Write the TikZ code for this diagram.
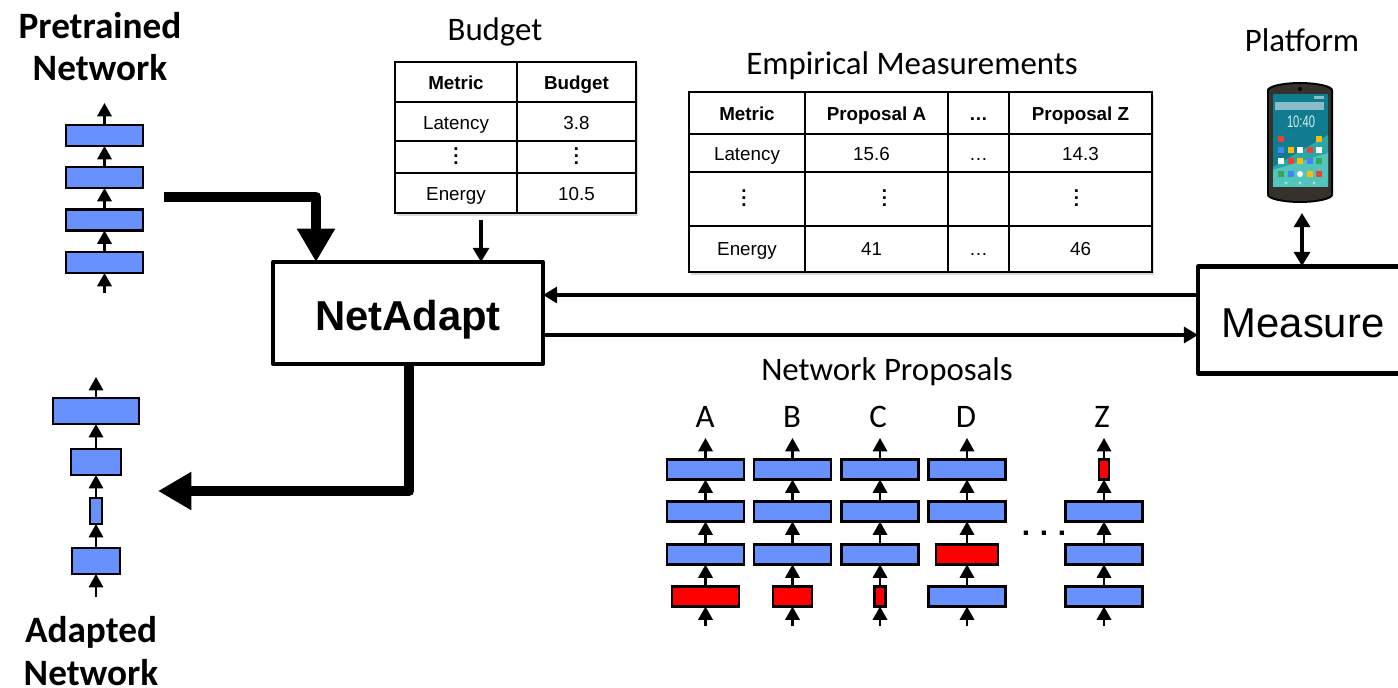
\documentclass[tikz,border=0pt]{standalone}
\usepackage{fontspec}
\usepackage{graphicx}
\usepackage{tikz}
\usetikzlibrary{arrows.meta,shadows}
\setmainfont{Carlito}
\newfontfamily\arialfont{Liberation Sans}
\def\px{0.02cm}
\definecolor{blockblue}{RGB}{102,145,255}
\definecolor{screendark}{RGB}{15,124,143}
\definecolor{screenmid}{RGB}{42,168,168}
\definecolor{screenlight}{RGB}{82,196,187}
\definecolor{phonebody}{RGB}{52,50,42}
\definecolor{barlight}{RGB}{137,190,200}
\definecolor{appred}{RGB}{234,67,53}
\definecolor{appblue}{RGB}{66,133,244}
\definecolor{appyellow}{RGB}{251,188,5}
\definecolor{appgreen}{RGB}{52,168,83}

\begin{document}
\begin{tikzpicture}[x=0.02cm,y=-0.02cm]
   \useasboundingbox (0,0) rectangle (1398,688);
   \tikzstyle{title}=[font=\fontsize{18.7}{22}\selectfont, inner sep=0pt]
   \tikzstyle{heading}=[font=\fontsize{21.2}{25}\selectfont\bfseries, inner sep=0pt]
   \tikzstyle{main}=[draw=black, line width=2.3pt, line join=round, fill=white, inner sep=0pt, outer sep=0pt]
   \tikzstyle{block}=[draw=black, line width=1.2pt, fill=blockblue, inner sep=0pt, outer sep=0pt]
   \tikzstyle{cut}=[block, fill=red]
   \tikzstyle{cell}=[draw=black, line width=1.1pt, inner sep=0pt, outer sep=0pt, text height=0.95em, text depth=0.05em, font=\arialfont\fontsize{10.7}{13}\selectfont]
   \tikzstyle{head}=[cell, font=\arialfont\bfseries\fontsize{10.7}{13}\selectfont]
   \tikzstyle{tableback}=[fill=white, drop shadow={opacity=0.3, shadow xshift=1.2pt, shadow yshift=-1.6pt}]
   \tikzstyle{layer}=[-{Triangle[width=8.2pt,length=7.6pt]}, line width=1.2pt]
   \tikzstyle{link}=[-{Triangle[width=9pt,length=8pt]}, line width=2pt]
   \tikzstyle{bigarrow}=[-{Triangle[width=20.5pt,length=19pt]}, line width=6.2pt, line join=round]
   \newcommand{\tabledots}{{\bfseries$\vdots$}}

   % labels
   \node[heading] (pretrained) at (100,26) {Pretrained};
   \node[heading] (network1) at (100,68) {Network};
   \node[heading] (adapted) at (91,632) {Adapted};
   \node[heading] (network2) at (91,673) {Network};
   \node[title] (budgetlabel) at (495,32) {Budget};
   \node[title] (empiricallabel) at (912,65.5) {Empirical Measurements};
   \node[title] (proposallabel) at (887,372) {Network Proposals};
   \node[title] (platformlabel) at (1302,40) {Platform};

   % main boxes
   \node[main, minimum width=270*\px, minimum height=102*\px, text height=19.5pt, text depth=0pt, font=\arialfont\bfseries\fontsize{23.8}{28}\selectfont] (netadapt) at (408,313) {NetAdapt};
   \node[main, minimum width=220*\px, minimum height=107*\px] (measure) at (1308,320) {};
   \node[font=\arialfont\fontsize{23.8}{28}\selectfont, inner sep=0pt] (measurelabel) at (1303,323) {Measure};

   % network stacks, bottom to top
   \foreach \col/\cx/\h/\ybot/\ytop/\cells in {
       P/104.5/21/293/103/{262.5/79/block,220/79/block,177.5/79/block,135.5/79/block},
       Q/96/26/597/377/{561/50/block,511/14/block,462/52/block,411/88/block},
       A/705.5/20/626/438/{596.5/69/cut,554.5/79/block,511.5/79/block,469.5/79/block},
       B/792.5/20/626/438/{596.5/41/cut,554.5/79/block,511.5/79/block,469.5/79/block},
       C/880/20/626/438/{596.5/13/cut,554.5/79/block,511.5/79/block,469.5/79/block},
       D/967/20/626/438/{596.5/79/block,554.5/64/cut,511.5/79/block,469.5/79/block},
       Z/1104/20/626/438/{596.5/79/block,554.5/79/block,511.5/79/block,469.5/12/cut}} {
       \coordinate (\col0) at (\cx,\ybot);
       \coordinate (\col top) at (\cx,\ytop);
       \foreach \y/\w/\kind [count=\i, remember=\i as \j (initially 0)] in \cells {
           \node[\kind, minimum width=(\w-2)*\px, minimum height=\h*\px] (\col\i) at (\cx,\y) {};
           \draw[layer] (\col\j) -- (\col\i);
       }
       \draw[layer] (\col4) -- (\col top);
   }
   \foreach \col/\cx in {A/705,B/792,C/878,D/966,Z/1102} {
       \node[font=\fontsize{18.7}{22}\selectfont, inner sep=0pt] (label\col) at (\cx,417) {\col};
   }
   \node[font=\arialfont\bfseries\fontsize{17}{20}\selectfont, inner sep=0pt] (dots) at (1044,533) {.\hspace{5.5pt}.\hspace{5.5pt}.};

   % thick arrows
   \coordinate (pretrainedout) at (164,197);
   \coordinate (adaptedin) at (158,491);
   \coordinate (pretrainedin) at (316,262);
   \coordinate (adaptedout) at (409,364);
   \draw[bigarrow] (pretrainedout) -| (pretrainedin);
   \draw[bigarrow] (adaptedout) |- (adaptedin);

   % budget table
   \node[tableback, minimum width=241*\px, minimum height=151*\px, inner sep=0pt] (budgetback) at (515.5,137.5) {};
   \foreach \x/\w/\txta/\txtb/\txtc/\txtd [count=\c] in {456/122/Metric/Latency/\tabledots/Energy, 576.5/119/Budget/3.8/\tabledots/10.5} {
       \node[head, minimum width=\w*\px, minimum height=40*\px] (budget\c1) at (\x,82) {\txta};
       \node[cell, minimum width=\w*\px, minimum height=39*\px] (budget\c2) at (\x,121.5) {\txtb};
       \node[cell, minimum width=\w*\px, minimum height=32*\px] (budget\c3) at (\x,157) {\txtc};
       \node[cell, minimum width=\w*\px, minimum height=40*\px] (budget\c4) at (\x,193) {\txtd};
   }

   % measurement table
   \node[tableback, minimum width=463*\px, minimum height=180*\px, inner sep=0pt] (measureback) at (920.5,182) {};
   \foreach \x/\w/\txta/\txtb/\txtc/\txtd [count=\c] in {
       747/116/Metric/Latency/{\hspace*{-0.12cm}\tabledots}/Energy,
       876.5/143/Proposal A/{\hspace*{-0.2cm}15.6}/{\hspace*{0.32cm}\tabledots}/{\hspace*{-0.2cm}41},
       978.5/61/\ldots/\ldots/{}/\ldots,
       1080.5/143/Proposal Z/14.3/{\hspace*{-0.16cm}\tabledots}/46} {
       \node[head, minimum width=\w*\px, minimum height=42*\px] (measure\c1) at (\x,113) {\txta};
       \node[cell, minimum width=\w*\px, minimum height=38*\px] (measure\c2) at (\x,153) {\txtb};
       \node[cell, minimum width=\w*\px, minimum height=54*\px] (measure\c3) at (\x,199) {\txtc};
       \node[cell, text height=0.75em, minimum width=\w*\px, minimum height=46*\px] (measure\c4) at (\x,249) {\txtd};
   }

   % connectors
   \coordinate (budgetout) at (481,220);
   \coordinate (budgetin) at (481,262);
   \coordinate (upper) at (0,295);
   \coordinate (lower) at (0,335);
   \coordinate (phoneport) at (1302,213);
   \coordinate (measureport) at (1302,266);
   \draw[link] (budgetout) -- (budgetin);
   \draw[link] (measure.west |- upper) -- (netadapt.east |- upper);
   \draw[link] (netadapt.east |- lower) -- (measure.west |- lower);
   \draw[link, {Triangle[width=9pt,length=8pt]}-{Triangle[width=9pt,length=8pt]}] (phoneport) -- (measureport);

   % phone
   \fill[black] (1267,90) .. controls (1267,85) and (1285,82) .. (1300,82) .. controls (1315,82) and (1333,85) .. (1333,90) -- (1333,195) .. controls (1333,200) and (1315,203) .. (1300,203) .. controls (1285,203) and (1267,200) .. (1267,195) -- cycle;
   \fill[phonebody] (1269,91) .. controls (1269,87) and (1285,84) .. (1300,84) .. controls (1315,84) and (1331,87) .. (1331,91) -- (1331,194) .. controls (1331,198) and (1315,201) .. (1300,201) .. controls (1285,201) and (1269,198) .. (1269,194) -- cycle;
   \fill[screendark] (1273,94) rectangle (1328,187);
   \fill[screenmid] (1273,167) -- (1328,135) -- (1328,187) -- (1273,187) -- cycle;
   \fill[screenlight] (1273,170) -- (1328,153) -- (1328,187) -- (1273,187) -- cycle;
   \fill[black] (1300,89) circle (2);
   \fill[barlight] (1275,102) rectangle (1324,110);
   \fill[barlight] (1314,96) rectangle (1324,99);
   \node[text=white!85!screendark, font=\arialfont\fontsize{9.5}{11}\selectfont, inner sep=0pt] (clock) at (1301,122) {\scalebox{0.67}[1]{10:40}};
   \foreach \x/\y/\app in {1281/139/appred, 1319/139/appyellow,
       1281/150/appblue, 1291/150/appyellow, 1300/150/white, 1310/150/appred, 1319/150/white,
       1281/161/white, 1291/161/appred, 1300/161/appyellow, 1310/161/appblue, 1319/161/appgreen,
       1281/174/appgreen, 1291/174/appblue, 1310/174/appyellow, 1319/174/appred} {
       \fill[\app] (\x-2.6,\y-2.6) rectangle (\x+2.6,\y+2.6);
   }
   \fill[white] (1300,174) circle (3);
   \foreach \x in {1286,1300,1314} {
       \fill[white, opacity=0.5] (\x,183) circle (1.6);
   }
\end{tikzpicture}
\end{document}
